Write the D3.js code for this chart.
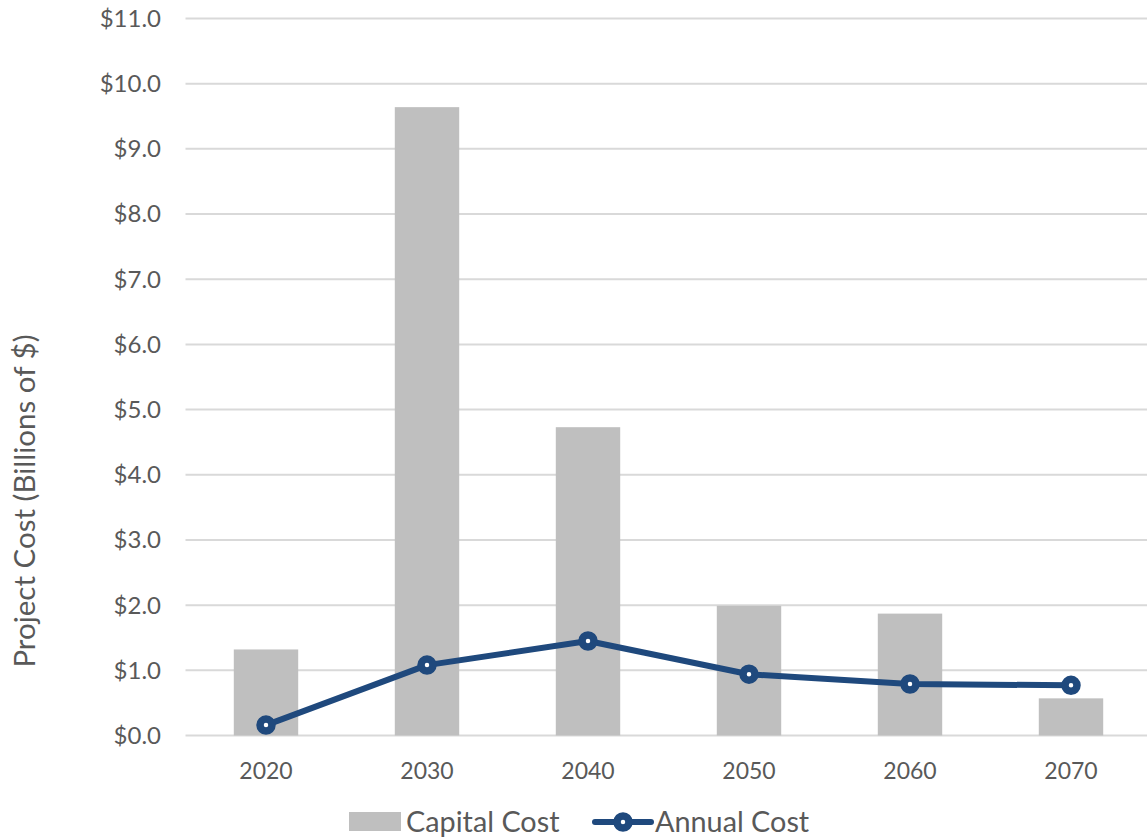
<!DOCTYPE html>
<html>
<head>
<meta charset="utf-8">
<script src="https://cdn.jsdelivr.net/npm/d3@7"></script>
<style>
  body { margin: 0; background: #fff; }
  text { font-family: Lato, "Open Sans", sans-serif; fill: #595959; }
</style>
</head>
<body>
<svg id="chart"></svg>
<script>
var years = ["2020", "2030", "2040", "2050", "2060", "2070"];
var capitalCost = [1.32, 9.64, 4.73, 1.99, 1.87, 0.57];
var annualCost = [0.16, 1.08, 1.45, 0.94, 0.79, 0.77];
var yTicks = [0, 1, 2, 3, 4, 5, 6, 7, 8, 9, 10, 11];

var width = 1147, height = 838;
var svg = d3.select("#chart")
    .attr("width", width)
    .attr("height", height);

//scales
var x = d3.scaleBand().domain(years).range([185.5, 1151.5])
    .paddingInner(0.6).paddingOuter(0.3);
var y = d3.scaleLinear().domain([0, 11]).range([735.5, 18.5]);

// gridlines + y labels
yTicks.forEach(function(t) {
    svg.append("line")
        .attr("x1", 185.5).attr("x2", width)
        .attr("y1", y(t)).attr("y2", y(t))
        .attr("stroke", "#d9d9d9")
        .attr("stroke-width", 2);
    svg.append("text")
        .text("$" + t.toFixed(1))
        .attr("x", 161)
        .attr("y", y(t))
        .attr("dy", "0.35em")
        .attr("text-anchor", "end")
        .style("font-size", "24px");
});

// x labels
years.forEach(function(d) {
    svg.append("text")
        .text(d)
        .attr("x", x(d) + x.bandwidth() / 2)
        .attr("y", 771)
        .attr("dy", "0.35em")
        .attr("text-anchor", "middle")
        .style("font-size", "23px");
});

// axis title
svg.append("text")
    .text("Project Cost (Billions of $)")
    .attr("transform", "translate(25,501) rotate(-90)")
    .attr("dy", "0.35em")
    .attr("text-anchor", "middle")
    .style("font-size", "29.5px");

// bars
svg.selectAll("rect.bar")
    .data(capitalCost)
    .enter()
    .append("rect")
    .attr("class", "bar")
    .attr("x", function(d, i) { return x(years[i]); })
    .attr("y", function(d) { return y(d); })
    .attr("width", x.bandwidth())
    .attr("height", function(d) { return y(0) - y(d); })
    .attr("fill", "#bfbfbf");

// line
var line = d3.line()
    .x(function(d, i) { return x(years[i]) + x.bandwidth() / 2; })
    .y(function(d) { return y(d); });

svg.append("path")
    .datum(annualCost)
    .attr("d", line)
    .attr("fill", "none")
    .attr("stroke", "#1f497d")
    .attr("stroke-width", 6)
    .attr("stroke-linejoin", "round");

svg.selectAll("circle.pt")
    .data(annualCost)
    .enter()
    .append("circle")
    .attr("class", "pt")
    .attr("cx", function(d, i) { return x(years[i]) + x.bandwidth() / 2; })
    .attr("cy", function(d) { return y(d); })
    .attr("r", 6)
    .attr("fill", "#fff")
    .attr("stroke", "#1f497d")
    .attr("stroke-width", 7.5);

// legend
var lg = svg.append("g");
lg.append("rect")
    .attr("x", 349).attr("y", 812)
    .attr("width", 52).attr("height", 19)
    .attr("fill", "#bfbfbf");
lg.append("text")
    .text("Capital Cost")
    .attr("x", 406).attr("y", 822)
    .attr("dy", "0.35em")
    .style("font-size", "28.8px");
lg.append("line")
    .attr("x1", 595).attr("x2", 651)
    .attr("y1", 822).attr("y2", 822)
    .attr("stroke", "#1f497d")
    .attr("stroke-width", 6)
    .attr("stroke-linecap", "round");
lg.append("circle")
    .attr("cx", 623).attr("cy", 822)
    .attr("r", 6)
    .attr("fill", "#fff")
    .attr("stroke", "#1f497d")
    .attr("stroke-width", 7.5);
lg.append("text")
    .text("Annual Cost")
    .attr("x", 655).attr("y", 822)
    .attr("dy", "0.35em")
    .style("font-size", "28.8px");
</script>
</body>
</html>
